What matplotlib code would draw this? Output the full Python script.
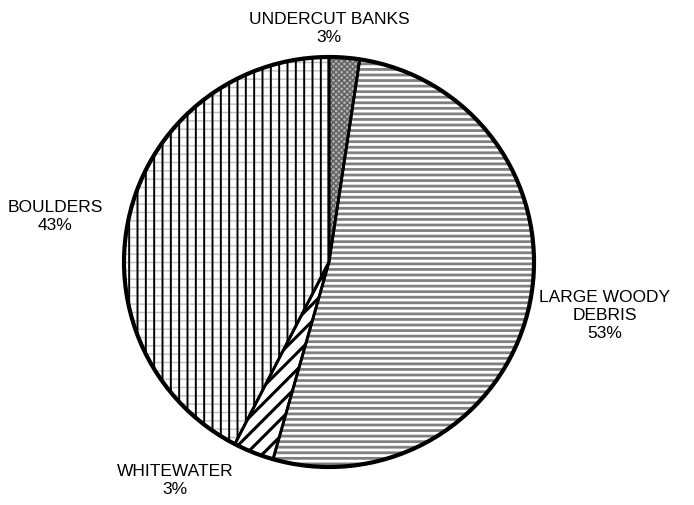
import matplotlib
matplotlib.use("Agg")
import matplotlib.pyplot as plt
from matplotlib.patches import Wedge

plt.rcParams['font.family'] = ['Liberation Sans', 'DejaVu Sans']

# cover types, clockwise from the top
categories = ['UNDERCUT BANKS', 'LARGE WOODY\nDEBRIS', 'WHITEWATER', 'BOULDERS']
shares = [2.4, 52.0, 3.2, 42.4]
pct_labels = ['3%', '53%', '3%', '43%']

# hatch pattern: (hatch, hatch colour, hatch lw, face)
styles = [
    [('xxxxxx', '#606060', 1.0, '#b0b0b0')],
    [('---', '#808080', 2.0, 'white')],
    [('//', 'black', 2.2, 'white')],
    [('--', '#c0c0c0', 1.0, 'white'), ('||', 'black', 1.4, 'none')],
]
label_pos = [(329, 478), (605, 190), (175, 25), (55, 290)]

fig = plt.figure(figsize=(6.94, 5.06), dpi=100)
ax = fig.add_axes([0, 0, 1, 1])
ax.set_xlim(0, 694)
ax.set_ylim(0, 506)
ax.set_aspect('equal')
ax.axis('off')

cx, cy, r = 329, 243, 205
wedges, _ = ax.pie(shares, startangle=90, counterclock=False, center=(cx, cy),
                   radius=r, frame=True,
                   wedgeprops=dict(facecolor='none', edgecolor='none'))
ax.set_xlim(0, 694)
ax.set_ylim(0, 506)
ax.axis('off')

for w, st in zip(wedges, styles):
    for hatch, hc, hlw, face in st:
        p = Wedge((cx, cy), r, w.theta1, w.theta2, facecolor=face,
                  edgecolor=hc, linewidth=0, hatch=hatch, zorder=1)
        if hasattr(p, 'set_hatch_linewidth'):
            p.set_hatch_linewidth(hlw)
        ax.add_patch(p)
    ax.add_patch(Wedge((cx, cy), r, w.theta1, w.theta2, fill=False,
                       edgecolor='black', linewidth=2.0, zorder=3))

ax.add_patch(plt.Circle((cx, cy), r, fill=False, edgecolor='black',
                        linewidth=3, zorder=4))

for name, pct, (x, y) in zip(categories, pct_labels, label_pos):
    ax.text(x, y, name + '\n' + pct, ha='center', va='center',
            fontsize=12.5, linespacing=1.25)

fig.savefig('out.png', dpi=100)
